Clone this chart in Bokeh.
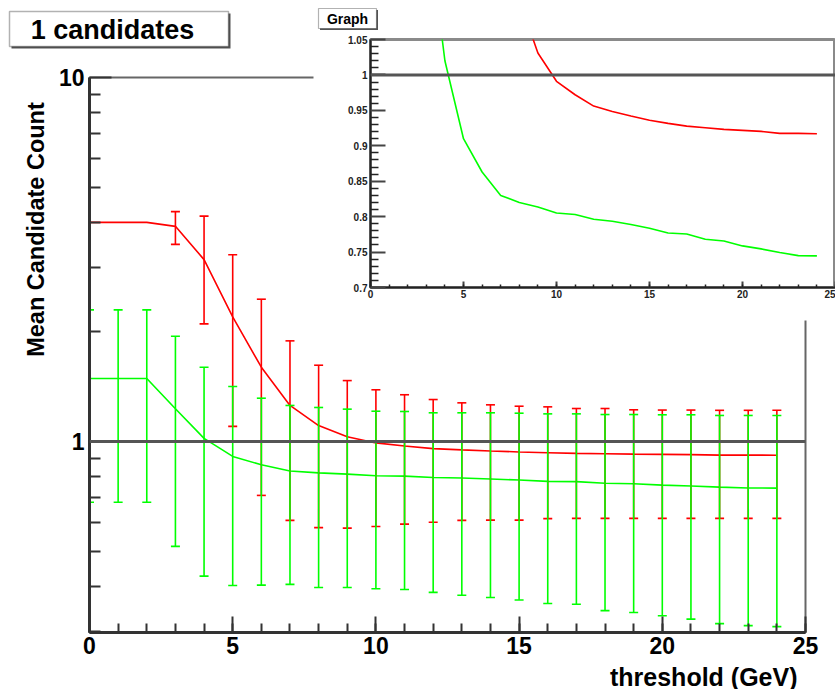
import math
from bokeh.plotting import figure
from bokeh.models import (ColumnDataSource, Whisker, TeeHead, Span, Label, FixedTicker,
                          SingleIntervalTicker, Range1d, BoxAnnotation)
from bokeh.layouts import row
from bokeh.embed import file_html
from bokeh.resources import INLINE

# ---------------- data ----------------
threshold = list(range(25))

red_mean = [4.00, 4.00, 4.00, 3.90, 3.16, 2.20, 1.60, 1.256, 1.106, 1.031, 0.991, 0.972, 0.956,
            0.9485, 0.942, 0.936, 0.9316, 0.9278, 0.9255, 0.9231, 0.9217, 0.9203, 0.9175, 0.9175, 0.917]
red_upper = [None, None, None, 4.28, 4.16, 3.26, 2.46, 1.89, 1.62, 1.47, 1.387, 1.344, 1.304,
             1.277, 1.261, 1.250, 1.245, 1.232, 1.232, 1.222, 1.220, 1.220, 1.218, 1.218, 1.218]
red_lower = [None, None, None, 3.48, 2.105, 1.10, 0.711, 0.607, 0.580, 0.578, 0.584, 0.593, 0.600,
             0.607, 0.608, 0.608, 0.614, 0.615, 0.615, 0.615, 0.615, 0.615, 0.615, 0.615, 0.615]

green_mean = [1.49, 1.49, 1.49, 1.23, 1.02, 0.910, 0.863, 0.830, 0.820, 0.8137, 0.8052, 0.803, 0.7963,
              0.7935, 0.7888, 0.7836, 0.777, 0.7756, 0.7681, 0.7657, 0.7587, 0.7545, 0.7493, 0.745, 0.7446]
green_upper = [2.30, 2.30, 2.30, 1.946, 1.60, 1.416, 1.315, 1.256, 1.24, 1.227, 1.211, 1.209, 1.199,
               1.199, 1.199, 1.196, 1.191, 1.191, 1.186, 1.186, 1.184, 1.184, 1.179, 1.179, 1.179]
green_lower = [0.681, 0.681, 0.681, 0.515, 0.4266, 0.402, 0.403, 0.405, 0.397, 0.397, 0.394, 0.392, 0.385,
               0.378, 0.3727, 0.367, 0.359, 0.357, 0.343, 0.339, 0.332, 0.325, 0.316, 0.312, 0.310]

reference_level = 1.0

main_y_ticks = [1, 10]
main_y_tick_labels = ["1", "10"]
main_y_minor_ticks = [0.3, 0.4, 0.5, 0.6, 0.7, 0.8, 0.9, 2, 3, 4, 5, 6, 7, 8, 9]

inset_y_ticks = [0.7, 0.75, 0.8, 0.85, 0.9, 0.95, 1.0, 1.05]
inset_y_tick_labels = ["0.7", "0.75", "0.8", "0.85", "0.9", "0.95", "1", "1.05"]
inset_y_minor_ticks = [0.71, 0.72, 0.73, 0.74, 0.76, 0.77, 0.78, 0.79, 0.81, 0.82, 0.83, 0.84,
                       0.86, 0.87, 0.88, 0.89, 0.91, 0.92, 0.93, 0.94, 0.96, 0.97, 0.98, 0.99,
                       1.01, 1.02, 1.03, 1.04]

title_text = "1 candidates"
inset_title_text = "Graph"
x_title = "threshold (GeV)"
y_title = "Mean Candidate Count"

RED = "#ff0000"
GREEN = "#00ff00"
AXIS = "#333333"
FONT = "Liberation Sans"
W, H = 835, 689
TOP, BOTTOM = 77, 57          # shared top / bottom borders of every plot in the row


def err_source(xs, lo, hi):
    keep = [i for i in range(len(xs)) if lo[i] is not None and hi[i] is not None]
    return ColumnDataSource(dict(x=[xs[i] for i in keep],
                                 lower=[lo[i] for i in keep],
                                 upper=[hi[i] for i in keep]))


def add_whisker(fig, src, color, size):
    w = Whisker(source=src, base="x", upper="upper", lower="lower",
                line_color=color, line_width=1.6, level="glyph",
                upper_head=TeeHead(size=size, line_color=color, line_width=1.6),
                lower_head=TeeHead(size=size, line_color=color, line_width=1.6))
    fig.add_layout(w)


# ---------------- main figure ----------------
p = figure(width=W, height=H, x_range=Range1d(0, 25), y_range=Range1d(0.2987, 10),
           y_axis_type="log", output_backend="svg", toolbar_location=None,
           min_border_left=89, min_border_right=30, min_border_top=TOP, min_border_bottom=BOTTOM)
p.xgrid.visible = False
p.ygrid.visible = False
p.outline_line_color = "#666666"
p.outline_line_width = 2
p.background_fill_color = "white"
p.border_fill_color = "white"

xa = p.xaxis[0]
xa.ticker = SingleIntervalTicker(interval=5, num_minor_ticks=5)
ya = p.yaxis[0]
ya.ticker = FixedTicker(ticks=main_y_ticks, minor_ticks=main_y_minor_ticks)
ya.major_label_overrides = dict(zip(main_y_ticks, main_y_tick_labels))
for ax, maj, mnr in ((xa, 16, 9), (ya, 22, 11)):
    ax.major_tick_in = maj
    ax.major_tick_out = 0
    ax.minor_tick_in = mnr
    ax.minor_tick_out = 0
    ax.axis_line_color = AXIS
    ax.axis_line_width = 3
    ax.major_tick_line_color = AXIS
    ax.major_tick_line_width = 2
    ax.minor_tick_line_color = AXIS
    ax.minor_tick_line_width = 2
    ax.major_label_text_font = FONT
    ax.major_label_text_font_style = "bold"
    ax.major_label_text_font_size = "23px"
    ax.major_label_text_color = "black"
xa.major_label_standoff = 4
ya.major_label_standoff = 5

p.add_layout(Span(location=reference_level, dimension="width", line_color="#555555", line_width=3))

p.line(threshold, red_mean, line_color=RED, line_width=1.6)
add_whisker(p, err_source(threshold, red_lower, red_upper), RED, 9)
p.line(threshold, green_mean, line_color=GREEN, line_width=1.6)
add_whisker(p, err_source(threshold, green_lower, green_upper), GREEN, 9)

# ---------------- text overlay (frame = whole window, pixel coords, y downward) ----------------
p3 = figure(width=W, height=H + TOP + BOTTOM, x_range=Range1d(0, W), y_range=Range1d(H, 0),
            output_backend="svg", toolbar_location=None,
            x_axis_location=None, y_axis_location=None,
            min_border_left=0, min_border_right=0, min_border_top=TOP, min_border_bottom=BOTTOM)
p3.xgrid.visible = False
p3.ygrid.visible = False
p3.outline_line_color = None
p3.background_fill_color = None
p3.border_fill_color = None
p3.margin = (-TOP, 0, -BOTTOM, -W)

# white pad behind the inset
p3.add_layout(BoxAnnotation(left=313, right=W, top=0, bottom=320, fill_color="white",
                            fill_alpha=1.0, line_color=None, level="overlay"))

# title box "1 candidates" with ROOT-like shadow
p3.add_layout(BoxAnnotation(left=11, right=230, top=13, bottom=48, fill_color="#555555",
                            fill_alpha=1.0, line_color=None, level="overlay"))
p3.add_layout(BoxAnnotation(left=9, right=228, top=11, bottom=46, fill_color="white",
                            fill_alpha=1.0, line_color="black", line_width=1.5, level="overlay"))
p3.add_layout(Label(x=112, y=29, text=title_text, text_align="center", text_baseline="middle",
                    text_font=FONT, text_font_style="bold", text_font_size="27px",
                    text_color="black", level="overlay"))

# "Graph" box
p3.add_layout(BoxAnnotation(left=319.5, right=377.5, top=9.5, bottom=29.5, fill_color="#555555",
                            fill_alpha=1.0, line_color=None, level="overlay"))
p3.add_layout(BoxAnnotation(left=318, right=376, top=8, bottom=28, fill_color="white",
                            fill_alpha=1.0, line_color="black", line_width=1.2, level="overlay"))
p3.add_layout(Label(x=347, y=18, text=inset_title_text, text_align="center", text_baseline="middle",
                    text_font=FONT, text_font_style="bold", text_font_size="14px",
                    text_color="black", level="overlay"))

# axis titles
p3.add_layout(Label(x=35, y=229, text=y_title, angle=math.pi / 2,
                    text_align="center", text_baseline="middle",
                    text_font=FONT, text_font_style="bold", text_font_size="23.5px",
                    text_color="black", level="overlay"))
p3.add_layout(Label(x=797, y=676, text=x_title, text_align="right", text_baseline="alphabetic",
                    text_font=FONT, text_font_style="bold", text_font_size="25px",
                    text_color="black", level="overlay"))

# ---------------- inset figure ----------------
INSET_W = W - 313
p2 = figure(width=INSET_W, height=248 + TOP + BOTTOM, x_range=Range1d(0, 25), y_range=Range1d(0.7, 1.05),
            output_backend="svg", toolbar_location=None,
            min_border_left=57, min_border_right=0, min_border_top=TOP, min_border_bottom=BOTTOM)
p2.xgrid.visible = False
p2.ygrid.visible = False
p2.outline_line_color = "#8a8a8a"
p2.outline_line_width = 3
p2.background_fill_color = "white"
p2.border_fill_color = None

xa2 = p2.xaxis[0]
xa2.ticker = SingleIntervalTicker(interval=5, num_minor_ticks=5)
ya2 = p2.yaxis[0]
ya2.ticker = FixedTicker(ticks=inset_y_ticks, minor_ticks=inset_y_minor_ticks)
ya2.major_label_overrides = dict(zip(inset_y_ticks, inset_y_tick_labels))
for ax, maj, mnr in ((xa2, 6, 3), (ya2, 15, 8)):
    ax.major_tick_in = maj
    ax.major_tick_out = 0
    ax.minor_tick_in = mnr
    ax.minor_tick_out = 0
    ax.axis_line_color = "#222222"
    ax.axis_line_width = 2
    ax.major_tick_line_color = "#444444"
    ax.major_tick_line_width = 2
    ax.minor_tick_line_color = "#222222"
    ax.minor_tick_line_width = 1.5
    ax.major_label_text_font = FONT
    ax.major_label_text_font_style = "bold"
    ax.major_label_text_font_size = "10px"
    ax.major_label_text_color = "#222222"
xa2.major_label_standoff = 2
ya2.major_label_standoff = 3

p2.add_layout(Span(location=reference_level, dimension="width", line_color="#555555", line_width=3))
p2.line(threshold, red_mean, line_color=RED, line_width=1.6)
p2.line(threshold, green_mean, line_color=GREEN, line_width=1.6)
p2.margin = (39 - TOP, 0, 0, -INSET_W)

layout = row(p, p3, p2, spacing=0)
open("out.html", "w").write(file_html(layout, INLINE))
